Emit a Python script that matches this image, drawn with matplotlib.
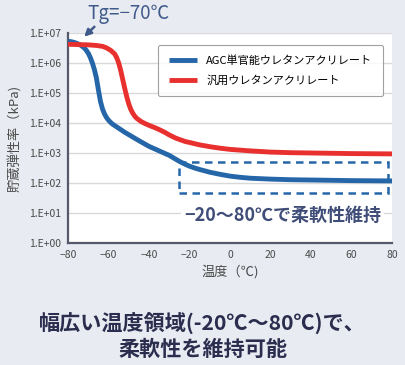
import math

import matplotlib.pyplot as plt
from matplotlib.patches import Rectangle
from matplotlib.ticker import FixedLocator, FuncFormatter

plt.rcParams['font.family'] = ['Noto Sans CJK JP', 'DejaVu Sans']

# storage modulus, given as log10(kPa), vs temperature (C)
temp_agc = [-80, -78, -76, -74, -72, -71, -70, -69, -68, -67, -66, -65, -64, -63,
            -62, -61, -60, -59, -58, -56, -54, -52, -50, -45, -40, -35, -30, -27, -25,
            -22, -20, -17, -15, -10, -5, 0, 5, 10, 20, 30, 40, 60, 80]
logmod_agc = [6.72, 6.70, 6.66, 6.60, 6.50, 6.42, 6.32, 6.18, 6.0, 5.78, 5.50, 5.10,
              4.72, 4.47, 4.30, 4.18, 4.09, 4.02, 3.96, 3.87, 3.78, 3.69, 3.61, 3.41,
              3.22, 3.07, 2.92, 2.80, 2.72, 2.62, 2.56, 2.49, 2.45, 2.36, 2.29, 2.23,
              2.19, 2.16, 2.13, 2.11, 2.10, 2.08, 2.07]

temp_gen = [-80, -70, -66, -63, -61, -59, -57, -56, -55, -54, -53, -52, -51, -50,
            -49, -48, -47, -46, -44, -42, -40, -37, -35, -32, -30, -27, -25, -22,
            -20, -15, -10, -5, 0, 10, 20, 30, 40, 60, 80]
logmod_gen = [6.62, 6.60, 6.58, 6.55, 6.50, 6.42, 6.30, 6.18, 6.0, 5.75, 5.45, 5.15,
              4.87, 4.63, 4.45, 4.32, 4.22, 4.15, 4.05, 3.98, 3.92, 3.84, 3.78, 3.68,
              3.60, 3.50, 3.45, 3.38, 3.35, 3.27, 3.21, 3.16, 3.12, 3.07, 3.03, 3.01,
              3.0, 2.98, 2.97]

x_ticks = [-80, -60, -40, -20, 0, 20, 40, 60, 80]
y_ticks = [1e0, 1e1, 1e2, 1e3, 1e4, 1e5, 1e6, 1e7]

label_agc = 'AGC単官能ウレタンアクリレート'
label_gen = '汎用ウレタンアクリレート'

bg = '#e8ebf1'
blue = '#2566a8'
red = '#e8302f'

fig = plt.figure(figsize=(4.05, 3.65), dpi=100, facecolor=bg)
ax = fig.add_axes([0.168, 0.334, 0.8, 0.576])
ax.set_facecolor('white')

ax.plot(temp_agc, [10 ** v for v in logmod_agc], color=blue, lw=3.5, label=label_agc,
        solid_capstyle='butt', solid_joinstyle='round', zorder=3)
ax.plot(temp_gen, [10 ** v for v in logmod_gen], color=red, lw=3.5, label=label_gen,
        solid_capstyle='butt', solid_joinstyle='round', zorder=3)

ax.set_yscale('log')
ax.set_xlim(-80, 80)
ax.set_ylim(1e0, 1e7)
ax.set_xticks(x_ticks)
ax.yaxis.set_major_locator(FixedLocator(y_ticks))
ax.yaxis.set_minor_locator(FixedLocator([]))
ax.yaxis.set_major_formatter(FuncFormatter(lambda v, p: '1.E+%02d' % round(math.log10(v))))
ax.tick_params(length=0, labelsize=7.5, labelcolor='#4a4a4a', pad=5)
ax.yaxis.grid(True, color='#d9d9d9', lw=1)
ax.set_axisbelow(True)
for s in ['top', 'right']:
    ax.spines[s].set_visible(False)
for s in ['left', 'bottom']:
    ax.spines[s].set_color('#55596a')
    ax.spines[s].set_linewidth(1.6)

ax.set_ylabel('貯蔵弾性率（kPa)', fontsize=9.5, color='#4a4a4a', labelpad=5)
ax.set_xlabel('温度（℃)', fontsize=9.5, color='#4a4a4a', labelpad=3)

leg = ax.legend(loc='upper right', bbox_to_anchor=(0.972, 0.943), borderaxespad=0,
                fontsize=8, frameon=True, edgecolor='#8a8a8a', fancybox=True,
                handlelength=2.6, labelspacing=0.8, borderpad=0.95, handletextpad=0.8)
leg.get_frame().set_linewidth(0.8)

# dashed box around the flat region
box = Rectangle((-25.3, 10 ** 1.67), 103.3, 10 ** 2.7 - 10 ** 1.67, fill=False,
                edgecolor=blue, lw=1.8, linestyle=(0, (3, 2.2)), zorder=4)
ax.add_patch(box)
ax.text(26, 8.2, '−20～80℃で柔軟性維持', fontsize=13, fontweight='bold',
        color='#3f4d78', ha='center', va='center', zorder=5,
        bbox=dict(facecolor='white', edgecolor='none', pad=2))

# Tg annotation
ax.annotate('', xy=(-73, 6.4e6), xytext=(-66, 1.85e7), annotation_clip=False,
            arrowprops=dict(arrowstyle='-|>', color='#3f5a8a', lw=1.8, mutation_scale=10))
ax.text(-50, 4.4e7, 'Tg=−70℃', fontsize=13.5, color='#3f5a8a', ha='center', va='center',
        clip_on=False)

fig.text(0.5, 0.078, '幅広い温度領域(-20℃～80℃)で、\n柔軟性を維持可能', fontsize=15.2,
         fontweight='bold', color='#2b2d4e', ha='center', va='center', linespacing=1.25)

fig.savefig('out.png', dpi=100, facecolor=bg)
